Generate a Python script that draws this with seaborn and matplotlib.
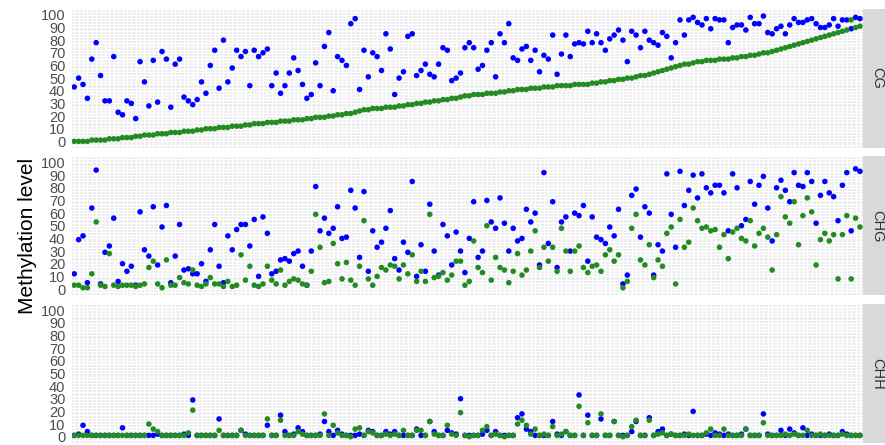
import pandas as pd
import matplotlib.pyplot as plt
import seaborn as sns
from matplotlib.ticker import MultipleLocator
from matplotlib.patches import Rectangle

# values (180 sites, 3 contexts, 2 groups)
contexts = ["CG", "CHG", "CHH"]

cg_blue = [
    43, 50, 45, 34, 65, 78, 52, 32, 32, 67,
    23, 21, 32, 30, 18, 63, 47, 28, 64, 31,
    71, 65, 27, 61, 65, 35, 32, 29, 33, 47,
    38, 60, 72, 42, 80, 47, 58, 72, 67, 71,
    44, 72, 67, 70, 73, 44, 54, 38, 44, 54,
    66, 56, 45, 34, 37, 62, 44, 75, 86, 40,
    67, 64, 60, 93, 97, 41, 72, 51, 70, 67,
    56, 85, 73, 37, 50, 55, 83, 85, 52, 56,
    61, 53, 51, 61, 74, 72, 48, 50, 54, 74,
    78, 74, 57, 60, 72, 78, 51, 85, 78, 93,
    66, 64, 73, 75, 64, 72, 55, 68, 65, 84,
    53, 69, 84, 67, 77, 78, 77, 87, 78, 85,
    78, 72, 81, 84, 88, 80, 63, 87, 84, 74,
    87, 80, 78, 76, 86, 83, 66, 78, 96, 84,
    96, 98, 94, 92, 97, 89, 97, 96, 96, 78,
    90, 92, 92, 88, 98, 93, 93, 99, 86, 85,
    89, 91, 85, 92, 97, 94, 94, 96, 97, 93,
    90, 90, 92, 97, 91, 96, 96, 89, 98, 97,
]
cg_green = [
    0, 0, 0, 0, 1, 1, 1, 1, 2, 2,
    2, 3, 3, 3, 4, 4, 5, 5, 5, 6,
    6, 6, 7, 7, 7, 8, 8, 8, 9, 9,
    10, 10, 10, 11, 11, 11, 12, 12, 12, 13,
    13, 14, 14, 14, 15, 15, 15, 16, 16, 16,
    17, 17, 17, 18, 18, 19, 19, 19, 20, 20,
    21, 21, 22, 22, 23, 24, 25, 25, 26, 26,
    26, 27, 27, 27, 28, 28, 29, 29, 30, 30,
    31, 31, 32, 32, 33, 33, 34, 34, 35, 36,
    36, 37, 37, 37, 38, 38, 38, 39, 39, 40,
    40, 41, 41, 41, 42, 42, 42, 43, 43, 43,
    44, 44, 44, 44, 45, 45, 45, 45, 46, 46,
    47, 47, 48, 48, 49, 49, 50, 50, 51, 52,
    52, 53, 54, 55, 56, 57, 58, 59, 60, 61,
    61, 62, 63, 63, 64, 64, 64, 65, 65, 65,
    66, 66, 67, 67, 68, 68, 69, 70, 70, 71,
    72, 73, 74, 75, 76, 77, 78, 79, 80, 81,
    82, 83, 84, 85, 86, 87, 88, 96, 90, 91,
]
chg_blue = [
    12, 39, 42, 5, 64, 94, 4, 29, 34, 56,
    6, 20, 14, 18, 3, 61, 31, 26, 65, 19,
    49, 66, 5, 26, 51, 15, 16, 12, 12, 20,
    6, 31, 51, 18, 5, 42, 31, 47, 51, 51,
    34, 55, 10, 57, 44, 12, 14, 23, 24, 22,
    28, 30, 18, 3, 30, 81, 46, 56, 44, 48,
    65, 40, 41, 78, 64, 25, 77, 14, 46, 33,
    37, 48, 62, 24, 15, 37, 29, 85, 10, 35,
    14, 67, 30, 11, 51, 42, 19, 45, 30, 13,
    40, 69, 25, 30, 70, 53, 48, 72, 52, 30,
    48, 38, 40, 63, 53, 60, 19, 92, 36, 69,
    17, 53, 57, 30, 60, 58, 66, 22, 57, 41,
    39, 36, 49, 42, 63, 4, 11, 74, 79, 41,
    65, 60, 11, 35, 30, 91, 59, 33, 93, 66,
    78, 90, 72, 91, 80, 76, 82, 82, 76, 46,
    91, 80, 50, 55, 85, 67, 82, 89, 64, 38,
    80, 86, 78, 69, 92, 82, 81, 92, 85, 52,
    74, 85, 76, 73, 54, 82, 92, 46, 95, 93,
]
chg_green = [
    3, 3, 1, 1, 12, 53, 3, 2, 28, 3,
    2, 3, 3, 3, 2, 3, 4, 17, 22, 4,
    1, 23, 3, 3, 9, 5, 4, 15, 3, 2,
    4, 9, 4, 4, 2, 6, 2, 3, 27, 7,
    18, 3, 2, 4, 18, 7, 4, 15, 3, 6,
    8, 7, 4, 3, 14, 59, 33, 5, 6, 36,
    20, 8, 21, 7, 3, 18, 54, 8, 3, 10,
    17, 15, 19, 18, 8, 19, 12, 27, 6, 14,
    6, 59, 9, 10, 13, 7, 11, 22, 22, 3,
    6, 38, 17, 13, 50, 7, 25, 17, 15, 5,
    14, 28, 11, 15, 30, 46, 17, 33, 22, 33,
    14, 48, 30, 14, 30, 34, 17, 13, 18, 19,
    14, 27, 31, 22, 27, 1, 6, 48, 59, 23,
    19, 35, 9, 23, 18, 44, 49, 4, 55, 33,
    37, 64, 54, 48, 49, 46, 47, 33, 43, 24,
    45, 48, 40, 38, 54, 34, 44, 48, 41, 15,
    43, 73, 57, 52, 69, 35, 58, 72, 61, 19,
    39, 44, 38, 43, 8, 43, 58, 8, 56, 49,
]
chh_blue = [
    1, 2, 9, 4, 1, 1, 1, 1, 1, 1,
    1, 7, 1, 1, 1, 1, 1, 1, 1, 2,
    1, 1, 1, 1, 1, 2, 1, 29, 1, 1,
    1, 1, 1, 14, 1, 1, 1, 1, 5, 2,
    1, 1, 1, 1, 9, 1, 1, 17, 4, 1,
    2, 7, 4, 1, 1, 1, 2, 12, 4, 1,
    5, 2, 1, 1, 1, 2, 1, 5, 4, 1,
    1, 4, 2, 4, 1, 1, 1, 1, 6, 1,
    1, 12, 4, 1, 1, 5, 3, 2, 30, 1,
    1, 1, 1, 2, 5, 1, 4, 1, 1, 1,
    1, 15, 18, 6, 4, 1, 1, 1, 1, 12,
    2, 1, 4, 1, 1, 33, 1, 17, 1, 1,
    14, 1, 1, 12, 1, 1, 1, 4, 12, 1,
    1, 15, 1, 4, 6, 1, 2, 1, 1, 2,
    1, 20, 1, 1, 2, 1, 3, 2, 1, 2,
    1, 1, 2, 6, 1, 1, 1, 18, 2, 1,
    1, 5, 1, 6, 3, 1, 7, 1, 2, 1,
    1, 1, 2, 1, 1, 4, 2, 1, 1, 1,
]
chh_green = [
    1, 1, 1, 1, 1, 1, 1, 1, 1, 1,
    1, 1, 1, 1, 1, 1, 1, 10, 6, 4,
    1, 1, 1, 1, 1, 1, 3, 21, 1, 1,
    1, 1, 1, 5, 1, 1, 1, 1, 5, 1,
    1, 1, 1, 1, 14, 1, 1, 13, 1, 1,
    1, 4, 2, 1, 1, 1, 1, 18, 1, 9,
    3, 1, 1, 0, 6, 7, 1, 4, 3, 1,
    1, 2, 1, 2, 1, 5, 1, 1, 5, 5,
    1, 12, 2, 1, 1, 9, 2, 1, 19, 1,
    0, 1, 1, 5, 8, 1, 2, 1, 0, 1,
    1, 10, 13, 9, 2, 6, 1, 2, 1, 8,
    1, 2, 4, 1, 1, 24, 1, 11, 1, 1,
    18, 1, 1, 12, 1, 0, 1, 8, 13, 1,
    1, 13, 1, 2, 3, 1, 2, 1, 1, 1,
    2, 1, 1, 1, 3, 6, 1, 1, 6, 1,
    1, 1, 1, 6, 1, 1, 1, 11, 1, 1,
    1, 1, 2, 1, 2, 1, 1, 5, 1, 1,
    2, 1, 1, 1, 1, 2, 1, 1, 1, 1,
]

sites = [f"site{i + 1}" for i in range(len(cg_blue))]

# long table: blue rows first so green is drawn on top
frames = []
for ctx, blue, green in [("CG", cg_blue, cg_green),
                         ("CHG", chg_blue, chg_green),
                         ("CHH", chh_blue, chh_green)]:
    frames.append(pd.DataFrame({"site": sites, "context": ctx, "group": "blue", "level": blue}))
    frames.append(pd.DataFrame({"site": sites, "context": ctx, "group": "green", "level": green}))
df = pd.concat(frames, ignore_index=True)

sns.set_style("white")
plt.rcParams["font.family"] = ["Liberation Sans", "DejaVu Sans"]

W, H = 885, 445
fig, axes = plt.subplots(3, 1, figsize=(W / 100, H / 100), dpi=100, sharex=True)
fig.subplots_adjust(left=71.6 / W, right=862.6 / W, top=1 - 8.5 / H,
                    bottom=2 / H, hspace=0.061)

pal = {"blue": "#0000FF", "green": "#228B22"}
for ax, ctx in zip(axes, contexts):
    sub = pd.concat([df[(df.context == ctx) & (df.group == "blue")],
                     df[(df.context == ctx) & (df.group == "green")]])
    sns.scatterplot(data=sub, x="site", y="level", hue="group", palette=pal,
                    s=16, linewidth=0, legend=False, ax=ax, zorder=3)
    ax.set_facecolor("#EBEBEB")
    ax.set_xlim(-0.6, len(sites) - 0.4)
    ax.set_ylim(-5, 105)
    ax.set_yticks(range(0, 101, 10))
    ax.yaxis.set_minor_locator(MultipleLocator(2.5))
    ax.set_xticks(range(len(sites)))
    ax.set_xticklabels([])
    ax.grid(which="both", color="white", linewidth=0.9)
    ax.set_axisbelow(True)
    for sp in ax.spines.values():
        sp.set_visible(False)
    ax.tick_params(axis="y", which="major", length=3, width=0.8, color="#333333",
                   labelcolor="#4D4D4D", labelsize=10.5, pad=1.5)
    ax.tick_params(axis="y", which="minor", length=0)
    ax.tick_params(axis="x", length=2, width=0.6, color="#333333")
    ax.set_xlabel("")
    ax.set_ylabel("")

    # facet strip on the right
    pos = ax.get_position()
    fig.add_artist(Rectangle((pos.x1, pos.y0), 1 - pos.x1, pos.height,
                             transform=fig.transFigure, facecolor="#D9D9D9",
                             edgecolor="none"))
    fig.text(877 / W, (pos.y0 + pos.y1) / 2, ctx, rotation=-90, ha="center",
             va="center", fontsize=10.5, color="#333333")

fig.text(28 / W, 1 - 236 / H, "Methylation level", rotation=90, ha="center",
         va="center", fontsize=15, color="black")

fig.savefig("out.png", dpi=100)
